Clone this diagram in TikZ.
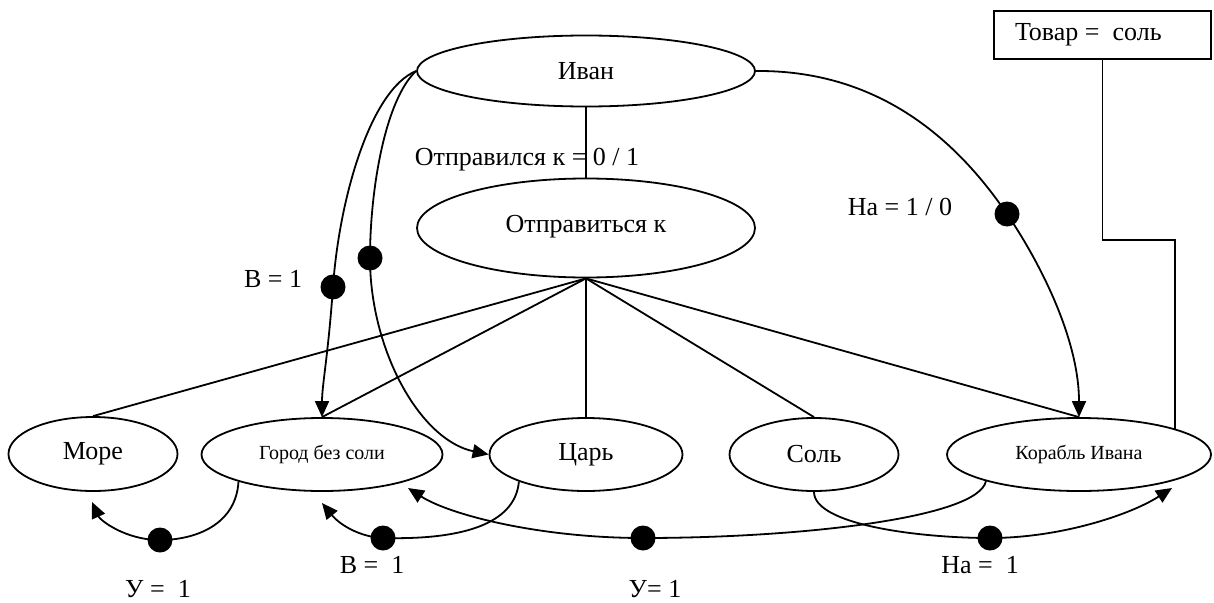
\documentclass[tikz,border=0pt]{standalone}
\usepackage{fontspec}
\setmainfont{Liberation Serif}
\usetikzlibrary{shapes.geometric,arrows.meta}
\begin{document}
\begin{tikzpicture}[x=1pt,y=-1pt,
  every node/.style={font=\fontsize{26}{30}\selectfont},
  ell/.style={draw, ellipse, line width=1.8pt, inner sep=0pt},
  small/.style={font=\fontsize{20}{24}\selectfont},
  dotnode/.style={circle, fill=black, inner sep=0pt, minimum size=25pt},
  conn/.style={line width=1.8pt},
  arr/.style={conn, -{Triangle[length=16pt,width=14pt]}},
  lbl/.style={inner sep=0pt, anchor=base}]
\useasboundingbox (0,0) rectangle (1214,602);

% ellipses
\node[ell, minimum width=338pt, minimum height=71pt] (ivan) at (586,71) {Иван};
\node[ell, minimum width=338pt, minimum height=99pt] (otpr) at (586,228) {\raisebox{8pt}{Отправиться к}};
\node[ell, minimum width=169pt, minimum height=74pt] (more) at (93,454) {\raisebox{-3pt}{Море}};
\node[ell, small, minimum width=241pt, minimum height=73pt] (gorod) at (322,454.5) {\raisebox{3pt}{Город без соли}};
\node[ell, minimum width=193pt, minimum height=73pt] (tsar) at (586,454.5) {\raisebox{-2pt}{Царь}};
\node[ell, minimum width=169pt, minimum height=73pt] (sol) at (814,454.5) {Соль};
\node[ell, small, minimum width=264pt, minimum height=73pt] (korabl) at (1079,454.5) {\raisebox{4pt}{Корабль Ивана}};
\node[draw, line width=1.8pt, minimum width=217pt, minimum height=48pt, inner sep=0pt] (tovar) at (1102.5,35) {\makebox[175pt][l]{Товар =\ \ соль}};

% dots
\node[dotnode] (d1) at (333,287) {};
\node[dotnode] (d2) at (370,258) {};
\node[dotnode] (d3) at (1007,214) {};
\node[dotnode] (d4) at (160,540) {};
\node[dotnode] (d5) at (383,538) {};
\node[dotnode] (d6) at (643,538) {};
\node[dotnode] (d7) at (990,538) {};

% arrow tip points
\coordinate (tipM) at (92,502);
\coordinate (tipGB) at (322,503);
\coordinate (tipGL) at (408,488);
\coordinate (tipK) at (1172,488);

% straight connectors
\draw[conn] (ivan.south) -- (otpr.north);
\draw[conn] (otpr.south) -- (more.north);
\draw[conn] (otpr.south) -- (gorod.north);
\draw[conn] (otpr.south) -- (tsar.north);
\draw[conn] (otpr.south) -- (sol.north);
\draw[conn] (otpr.south) -- (korabl.north);
\draw[conn] (tovar.south) -- ++(0,180) -| (korabl.15.6);

% curves from Ivan
\draw[conn] (ivan.west) .. controls (370,90) and (339,200) .. (d1.center);
\draw[arr] (d1.center) .. controls (328,357) and (322,385) .. (gorod.north);
\draw[conn] (ivan.west) .. controls (385,100) and (370,190) .. (d2.center);
\draw[arr] (d2.center) .. controls (370,350) and (420,440) .. (tsar.west);
\draw[conn] (ivan.east) .. controls (870,70) and (950,130) .. (d3.center);
\draw[arr] (d3.center) .. controls (1041,264) and (1079,340) .. (korabl.north);

% bottom loops
\draw[conn] (gorod.198) .. controls (236,525) and (195,540) .. (d4.center);
\draw[arr] (d4.center) .. controls (125,540) and (100,520) .. (tipM);
\draw[conn] (tsar.202) .. controls (515,525) and (460,540) .. (d5.center);
\draw[arr] (d5.center) .. controls (360,537) and (340,525) .. (tipGB);
\draw[conn] (korabl.196.5) .. controls (978,518) and (800,538) .. (d6.center);
\draw[arr] (d6.center) .. controls (540,538) and (450,515) .. (tipGL);
\draw[conn] (sol.south) .. controls (814,525) and (920,538) .. (d7.center);
\draw[arr] (d7.center) .. controls (1060,538) and (1130,515) .. (tipK);

% labels
\node[lbl] (l1) at (527,165) {Отправился к = 0 / 1};
\node[lbl] (l2) at (273,287) {В = 1};
\node[lbl] (l3) at (900,215) {На = 1 / 0};
\node[lbl] (l4) at (158,597) {У =\ \ 1};
\node[lbl] (l5) at (372,573) {В =\ \ 1};
\node[lbl] (l6) at (655,597) {У= 1};
\node[lbl] (l7) at (980,573) {На =\ \ 1};
\end{tikzpicture}
\end{document}
